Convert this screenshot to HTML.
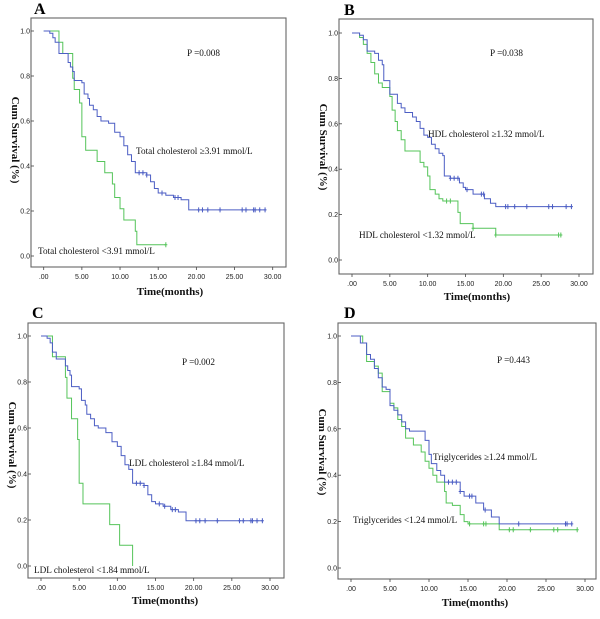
<!DOCTYPE html>
<html><head><meta charset="utf-8"><style>
html,body{margin:0;padding:0;background:#fff;}
svg{display:block;}
.tk{font-family:"Liberation Sans",sans-serif;font-size:7px;fill:#222;}
.an{font-family:"Liberation Serif",serif;font-size:9.2px;fill:#111;}
.ti{font-family:"Liberation Serif",serif;font-size:11px;font-weight:bold;fill:#111;}
.lt{font-family:"Liberation Serif",serif;font-size:16px;font-weight:bold;fill:#000;}
</style></head><body>
<svg id="fig" width="600" height="619" viewBox="0 0 600 619"></svg>
<script>
// ---- data ----
const xTicks=[0,5,10,15,20,25,30];
const xTickLabels=[".00","5.00","10.00","15.00","20.00","25.00","30.00"];
const yTicks=[0,0.2,0.4,0.6,0.8,1.0];
const yTickLabels=["0.0","0.2","0.4","0.6","0.8","1.0"];

const aHighT=[0,0.8,1.2,1.5,2.0,3.2,3.5,3.8,4.0,5.0,5.3,5.8,6.0,6.5,7.0,7.5,8.5,9.3,10.0,10.5,11.0,11.5,12.0,13.5,14.0,14.5,15.0,16.0,17.0,18.0,19.0];
const aHighS=[1,0.99,0.97,0.95,0.90,0.86,0.84,0.82,0.78,0.77,0.72,0.70,0.67,0.65,0.62,0.60,0.59,0.55,0.53,0.49,0.45,0.42,0.37,0.36,0.33,0.30,0.28,0.27,0.26,0.25,0.205];
const aHighEnd=29.1;
const aHighCens=[12.5,13,13.5,15.5,17.2,17.6,20.3,20.8,21.5,23.1,26.0,26.5,27.5,27.7,28.3,29];
const aLowT=[0,2.0,2.5,3.8,4.0,4.7,5.0,5.5,7.0,8.0,9.0,9.3,10.0,10.5,12.0,12.2];
const aLowS=[1,0.95,0.90,0.79,0.74,0.68,0.53,0.47,0.42,0.37,0.32,0.26,0.21,0.16,0.11,0.05];
const aLowEnd=16;
const aLowCens=[16];

const bHighT=[0,1.0,1.5,2.0,3.0,3.5,4.0,4.2,5.0,6.0,6.5,7.0,8.0,8.5,9.0,9.5,10.0,10.5,11.0,11.5,12.0,12.2,13.0,14.2,14.7,15.0,16.0,17.5,18.3,19.0];
const bHighS=[1,0.99,0.97,0.92,0.91,0.88,0.86,0.79,0.73,0.69,0.67,0.65,0.63,0.61,0.58,0.55,0.54,0.51,0.49,0.47,0.46,0.37,0.36,0.34,0.32,0.31,0.29,0.27,0.25,0.235];
const bHighEnd=29;
const bHighCens=[13,13.5,14,15.2,17.1,17.4,20.3,20.6,21.5,23.1,26,26.5,28.3,29];
const bLowT=[0,1.0,1.5,2.0,2.5,3.0,3.5,4.0,5.0,5.3,5.7,6.0,6.5,7.0,9.0,9.5,10.0,10.3,11.0,11.5,12.0,14.0,14.3,16.0,19.0];
const bLowS=[1,0.98,0.95,0.91,0.87,0.82,0.78,0.76,0.72,0.66,0.61,0.57,0.53,0.48,0.43,0.41,0.37,0.31,0.29,0.27,0.26,0.21,0.16,0.14,0.11];
const bLowEnd=27.6;
const bLowCens=[12.5,13,16,19,27.3,27.6];

const cHighT=[0,0.8,1.2,1.5,2.0,3.2,3.5,3.8,4.0,5.0,5.3,5.8,6.0,6.5,7.0,7.5,8.5,9.3,10.0,10.5,11.0,11.5,12.0,13.5,14.0,14.5,15.0,16.0,17.0,18.0,19.0];
const cHighS=[1,0.99,0.97,0.93,0.90,0.87,0.85,0.83,0.78,0.77,0.72,0.70,0.66,0.64,0.61,0.60,0.58,0.54,0.52,0.48,0.44,0.42,0.36,0.35,0.31,0.28,0.27,0.26,0.245,0.235,0.197];
const cHighEnd=29.1;
const cHighCens=[12.5,13,13.5,15.5,16.2,17.2,17.6,20.3,20.8,21.5,23.1,26.0,26.5,27.5,27.7,28.3,29];
const cLowT=[0,1.5,3.2,3.4,4.0,4.8,5.0,5.5,9.0,10.3,12.0];
const cLowS=[1,0.91,0.82,0.73,0.64,0.55,0.36,0.27,0.18,0.09,0.0];
const cLowEnd=12;
const cLowCens=[];

const dHighT=[0,1.2,2.0,2.5,3.0,3.5,4.0,4.5,5.0,5.5,6.0,6.5,7.0,7.5,9.5,10.0,10.3,11.0,11.5,12.0,14.0,14.5,16.0,17.0,18.0,19.0];
const dHighS=[1,0.97,0.92,0.90,0.86,0.82,0.78,0.77,0.70,0.68,0.66,0.63,0.60,0.59,0.55,0.49,0.45,0.42,0.40,0.37,0.33,0.31,0.28,0.25,0.22,0.19];
const dHighEnd=28.3;
const dHighCens=[12.5,13,13.5,14,15.2,15.5,17.2,21.5,27.5,27.7,28.3];
const dLowT=[0,1.5,2.0,3.0,3.5,4.0,5.0,5.5,6.0,6.5,7.0,8.0,9.0,9.5,10.0,10.5,11.0,12.0,12.2,13.0,14.0,14.5,15.0,19.0];
const dLowS=[1,0.97,0.89,0.87,0.84,0.76,0.71,0.69,0.64,0.61,0.56,0.53,0.50,0.46,0.43,0.40,0.37,0.33,0.28,0.27,0.23,0.20,0.19,0.165];
const dLowEnd=29;
const dLowCens=[15.2,17,17.3,20.3,20.8,23,26,26.5,29];

// ---- layout ----
const panels=[
 {id:"a",letter:"A",lx:34,ly:14,box:[31,18,286,267],x0:43.7,x1:272.7,y0:256,y1:31,
  hi:[aHighT,aHighS,aHighEnd,aHighCens],lo:[aLowT,aLowS,aLowEnd,aLowCens],
  p:"P =0.008",px:187,py:56,hl:"Total cholesterol  \u22653.91 mmol/L",hx:136,hy:154,ll:"Total cholesterol  <3.91 mmol/L",llx:38,lly:254,tx:170,ty:295,yx:12,yy:140},
 {id:"b",letter:"B",lx:344,ly:15,box:[339,19,593,274],x0:352,x1:579,y0:260,y1:33,
  hi:[bHighT,bHighS,bHighEnd,bHighCens],lo:[bLowT,bLowS,bLowEnd,bLowCens],
  p:"P =0.038",px:490,py:56,hl:"HDL cholesterol  \u22651.32 mmol/L",hx:428,hy:137,ll:"HDL cholesterol  <1.32 mmol/L",llx:359,lly:238,tx:477,ty:300,yx:320,yy:147},
 {id:"c",letter:"C",lx:32,ly:318,box:[28,323,284,578],x0:41,x1:270,y0:566,y1:336,
  hi:[cHighT,cHighS,cHighEnd,cHighCens],lo:[cLowT,cLowS,cLowEnd,cLowCens],
  p:"P =0.002",px:182,py:365,hl:"LDL cholesterol  \u22651.84 mmol/L",hx:129,hy:466,ll:"LDL cholesterol  <1.84 mmol/L",llx:34,lly:573,tx:165,ty:604,yx:9,yy:445},
 {id:"d",letter:"D",lx:344,ly:318,box:[338,323,596,579],x0:351,x1:585,y0:568,y1:336,
  hi:[dHighT,dHighS,dHighEnd,dHighCens],lo:[dLowT,dLowS,dLowEnd,dLowCens],
  p:"P =0.443",px:497,py:363,hl:"Triglycerides  \u22651.24 mmol/L",hx:433,hy:460,ll:"Triglycerides  <1.24 mmol/L",llx:353,lly:523,tx:475,ty:606,yx:319,yy:452}
];
const NS="http://www.w3.org/2000/svg";
const svg=document.getElementById("fig");
function mk(tag,attrs,parent){const e=document.createElementNS(NS,tag);for(const k in attrs)e.setAttribute(k,attrs[k]);parent.appendChild(e);return e;}
const BLUE="#4c5ec4",GREEN="#55c45a";

panels.forEach(P=>{
  const g=mk("g",{},svg);
  
  
  const sx=t=>P.x0+(P.x1-P.x0)*t/30;
  const sy=s=>P.y0+(P.y1-P.y0)*s;
  const [bx0,by0,bx1,by1]=P.box;
  const lt=mk("text",{x:P.lx,y:P.ly,class:"lt"},g);lt.textContent=P.letter;
  
  
  const r=mk("rect",{x:bx0,y:by0,width:bx1-bx0,height:by1-by0,fill:"none",stroke:"#666","stroke-width":1.1},g);
  
  
  xTicks.forEach((t,i)=>{
    const x=sx(t);
    const l=mk("line",{x1:x,x2:x,y1:by1,y2:by1+3,stroke:"#444","stroke-width":0.8},g);
    
    
    const tx=mk("text",{x:x,y:by1+12,class:"tk","text-anchor":"middle"},g);tx.textContent=xTickLabels[i];
    
    
  });
  yTicks.forEach((v,i)=>{
    const y=sy(v);
    const l=mk("line",{x1:bx0,x2:bx0+3,y1:y,y2:y,stroke:"#444","stroke-width":0.8},g);
    
    
    const tx=mk("text",{x:bx0-1,y:y+2.5,class:"tk","text-anchor":"end"},g);tx.textContent=yTickLabels[i];
    
    
  });
  [[P.lo,GREEN,"low"],[P.hi,BLUE,"high"]].forEach(([ser,col,nm])=>{
    const [T,S,end,C]=ser;
    let d="M"+sx(T[0])+","+sy(S[0]);
    for(let i=1;i<T.length;i++){d+=" H"+sx(T[i])+" V"+sy(S[i]);}
    d+=" H"+sx(end);
    const p=mk("path",{d:d,fill:"none",stroke:col,"stroke-width":1},g);
    
    
    C.forEach(t=>{
      let s=S[0];for(let i=0;i<T.length;i++){if(T[i]<=t)s=S[i];}
      const x=sx(t),y=sy(s);
      const m=mk("path",{d:`M${x},${y-2.5}V${y+2.5}M${x-1.5},${y}H${x+1.5}`,stroke:col,"stroke-width":1},g);
      
      
    });
  });
  const pt=mk("text",{x:P.px,y:P.py,class:"an"},g);pt.textContent=P.p;
  
  
  const h=mk("text",{x:P.hx,y:P.hy,class:"an"},g);h.textContent=P.hl;
  
  
  const lo=mk("text",{x:P.llx,y:P.lly,class:"an"},g);lo.textContent=P.ll;
  
  
  const xt=mk("text",{x:P.tx,y:P.ty,class:"ti","text-anchor":"middle"},g);xt.textContent="Time(months)";
  
  
  const yt=mk("text",{x:P.yx,y:P.yy,class:"ti","text-anchor":"middle",transform:`rotate(90 ${P.yx} ${P.yy})`},g);yt.textContent="Cum Survival (%)";
  
  
});
</script>
</body></html>
